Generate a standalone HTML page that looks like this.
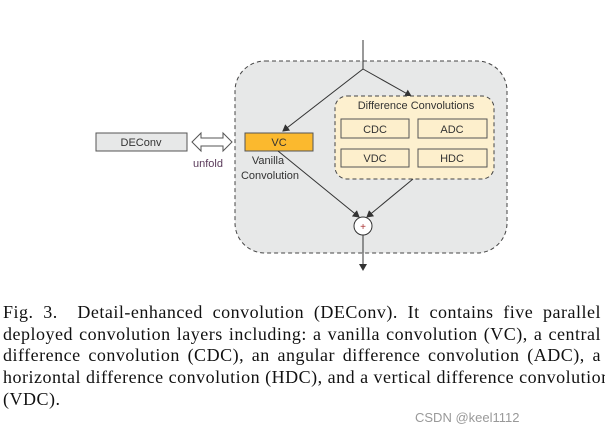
<!DOCTYPE html>
<html><head><meta charset="utf-8"><style>
body{margin:0;width:605px;height:434px;background:#fff;position:relative;overflow:hidden}
.cap{position:absolute;left:3px;top:302px;width:598px;font-family:"Liberation Serif",serif;font-size:18px;line-height:21.7px;color:#111;letter-spacing:0.5px}
.cap div{text-align:justify;text-align-last:justify;white-space:nowrap;height:21.7px}
.cap div.l{text-align-last:left}
.wm{position:absolute;left:415px;top:410px;font-family:"Liberation Sans",sans-serif;font-size:13px;color:#999}
</style></head><body>
<svg width="605" height="290" style="position:absolute;left:0;top:0" font-family="Liberation Sans, DejaVu Sans, sans-serif">
<defs><marker id="a" markerWidth="8" markerHeight="8" refX="6" refY="4" orient="auto" markerUnits="userSpaceOnUse"><path d="M0,0 L7,4 L0,8z" fill="#333"/></marker></defs>
<rect x="235" y="61" width="272" height="192" rx="30" fill="#e7e8e8" stroke="#444" stroke-dasharray="4,3"/>
<line x1="363" y1="40" x2="363" y2="69" stroke="#333"/>
<line x1="363" y1="69" x2="283" y2="131" stroke="#333" marker-end="url(#a)"/>
<line x1="363" y1="69" x2="411" y2="96" stroke="#333" marker-end="url(#a)"/>
<rect x="335" y="96" width="159" height="83" rx="12" fill="#fdf0cf" stroke="#444" stroke-dasharray="4,3"/>
<text x="416" y="109" font-size="11" text-anchor="middle" fill="#333">Difference Convolutions</text>
<g fill="#fdefcc" stroke="#555"><rect x="341" y="119" width="68" height="19"/><rect x="418" y="119" width="69" height="19"/><rect x="341" y="149" width="68" height="18"/><rect x="418" y="149" width="69" height="18"/></g>
<g font-size="11" text-anchor="middle" fill="#333"><text x="375" y="133">CDC</text><text x="452" y="133">ADC</text><text x="375" y="162">VDC</text><text x="452" y="162">HDC</text></g>
<rect x="245" y="133" width="68" height="18" fill="#fbb92e" stroke="#555"/>
<text x="279" y="146" font-size="11" text-anchor="middle" fill="#333">VC</text>
<text x="268" y="164" font-size="11" text-anchor="middle" fill="#333">Vanilla</text>
<text x="270" y="179" font-size="11" text-anchor="middle" fill="#333">Convolution</text>
<rect x="96" y="133" width="91" height="18" fill="#e7e8e8" stroke="#555"/>
<text x="141" y="146" font-size="11" text-anchor="middle" fill="#333">DEConv</text>
<path d="M192,142 L201,133 L201,138 L223,138 L223,133 L232,142 L223,151 L223,146 L201,146 L201,151z" fill="#fff" stroke="#555"/>
<text x="193" y="167" font-size="11" fill="#5a3a5a">unfold</text>
<line x1="278" y1="151" x2="359" y2="217" stroke="#333" marker-end="url(#a)"/>
<line x1="413" y1="179" x2="367" y2="217" stroke="#333" marker-end="url(#a)"/>
<circle cx="363" cy="226" r="9" fill="#fff" stroke="#333"/>
<text x="363" y="230" font-size="10" text-anchor="middle" fill="#a33">+</text>
<line x1="363" y1="235" x2="363" y2="270" stroke="#333" marker-end="url(#a)"/>
</svg>
<div class="cap">
<div>Fig. 3.&nbsp;&nbsp;Detail-enhanced convolution (DEConv). It contains five parallel</div>
<div>deployed convolution layers including: a vanilla convolution (VC), a central</div>
<div>difference convolution (CDC), an angular difference convolution (ADC), a</div>
<div>horizontal difference convolution (HDC), and a vertical difference convolution</div>
<div class="l">(VDC).</div>
</div>
<div class="wm">CSDN @keel1112</div>
</body></html>
